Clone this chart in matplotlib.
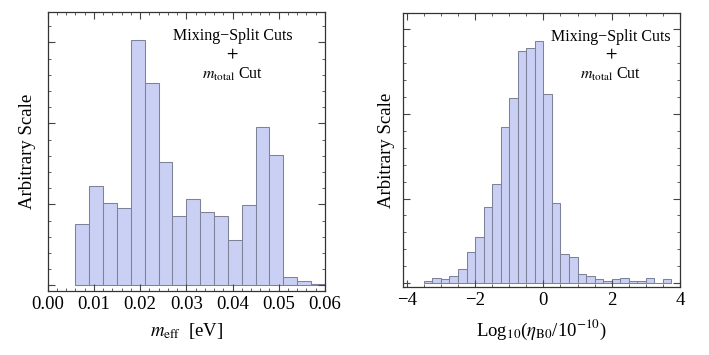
import matplotlib
matplotlib.use("Agg")
import matplotlib.pyplot as plt
import numpy as np
from matplotlib.ticker import MultipleLocator

plt.rcParams['font.family'] = ['Liberation Serif', 'DejaVu Serif']
plt.rcParams['mathtext.fontset'] = 'stix'

# left panel: m_eff histogram, bins of 0.003 eV starting at 0.006
meff_edges = [0.006, 0.009, 0.012, 0.015, 0.018, 0.021, 0.024, 0.027, 0.030, 0.033,
              0.036, 0.039, 0.042, 0.045, 0.048, 0.051, 0.054, 0.057, 0.060]
meff_counts = [184, 298, 246, 232, 735, 607, 369, 208, 258, 220,
               208, 136, 242, 475, 390, 24, 14, 4]

# right panel: log10(eta_B0 / 1e-10), bins of 0.25
eta_edges = [-3.5, -3.25, -3.0, -2.75, -2.5, -2.25, -2.0, -1.75, -1.5, -1.25,
             -1.0, -0.75, -0.5, -0.25, 0.0, 0.25, 0.5, 0.75, 1.0, 1.25,
             1.5, 1.75, 2.0, 2.25, 2.5, 2.75, 3.0, 3.25, 3.5, 3.75]
eta_counts = [7, 16, 12, 22, 43, 93, 139, 230, 298, 470,
              555, 698, 705, 728, 567, 240, 87, 79, 27, 22,
              12, 7, 14, 17, 7, 7, 16, 0, 12]

fill = '#cad0f4'
edge = '#7e8298'
frame_col = '#333333'

fig = plt.figure(figsize=(7.09, 3.55), dpi=100)
ax1 = fig.add_axes([0.0673, 0.180, 0.391, 0.785])
ax2 = fig.add_axes([0.568, 0.191, 0.391, 0.7715])


def draw_hist(ax, edges, counts):
    edges = np.array(edges)
    ax.bar(edges[:-1], counts, width=np.diff(edges), align='edge',
           color=fill, edgecolor=edge, linewidth=0.75)


def style(ax, ylab_x):
    for sp in ax.spines.values():
        sp.set_color(frame_col)
        sp.set_linewidth(0.9)
    ax.tick_params(which='both', direction='in', top=True, right=True,
                   color='#444444', labelsize=13.5)
    ax.tick_params(which='major', length=5, width=0.8)
    ax.tick_params(which='minor', length=2.5, width=0.6)
    ax.set_yticklabels([])
    ax.text(ylab_x, 0.5, 'Arbitrary Scale', transform=ax.transAxes, rotation=90,
            ha='center', va='center', fontsize=13.5)


def cut_label(ax, x, ys):
    ax.text(x, ys[0], 'Mixing\u2212Split Cuts', transform=ax.transAxes,
            ha='center', va='center', fontsize=11.5)
    ax.text(x, ys[1], r'$+$', transform=ax.transAxes, ha='center', va='center', fontsize=12)
    ax.text(x, ys[2], r'$m_{\rm total}$ Cut', transform=ax.transAxes,
            ha='center', va='baseline', fontsize=11.5)


draw_hist(ax1, meff_edges, meff_counts)
ax1.set_xlim(0, 0.06)
ax1.set_ylim(-17, 819)
ax1.xaxis.set_major_locator(MultipleLocator(0.01))
ax1.xaxis.set_minor_locator(MultipleLocator(0.002))
ax1.yaxis.set_major_locator(MultipleLocator(243))
ax1.yaxis.set_minor_locator(MultipleLocator(48.6))
ax1.xaxis.set_major_formatter(plt.FuncFormatter(lambda v, p: '%.2f' % v))
style(ax1, -0.0736)
ax1.set_xlabel(r'$m_{\rm eff}$  [eV]', fontsize=13.5, labelpad=6)
cut_label(ax1, 0.667, [0.916, 0.850, 0.760])

draw_hist(ax2, eta_edges, eta_counts)
ax2.set_xlim(-4.12, 4)
ax2.set_ylim(-12, 810)
ax2.xaxis.set_major_locator(MultipleLocator(2))
ax2.xaxis.set_minor_locator(MultipleLocator(0.5))
ax2.yaxis.set_major_locator(MultipleLocator(254))
ax2.yaxis.set_minor_locator(MultipleLocator(50.8))
ax2.xaxis.set_major_formatter(plt.FuncFormatter(lambda v, p: '%d' % v if v >= 0 else '\u2212%d' % -v))
style(ax2, -0.0577)
ax2.set_xlabel(r'Log$_{10}$($\eta_{\rm B0}$/10$^{-10}$)', fontsize=13.5, labelpad=6)
cut_label(ax2, 0.751, [0.912, 0.850, 0.762])

fig.savefig('out.png', dpi=100)
